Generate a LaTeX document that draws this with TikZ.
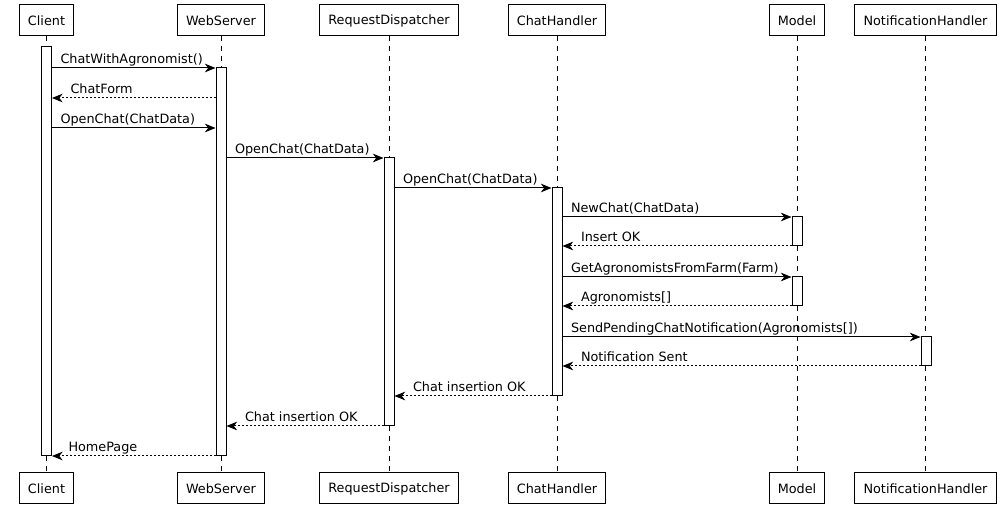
\documentclass[tikz,border=0pt]{standalone}
\usepackage{fontspec}
\setmainfont{DejaVu Sans}
\usetikzlibrary{arrows.meta, fit}

\begin{document}
\begin{tikzpicture}[
        x=0.75pt, y=-0.75pt,
        font=\fontsize{9.6}{11}\selectfont,
        actor/.style={draw, line width=0.75pt, minimum height=23.25pt, inner xsep=6.5pt, inner ysep=0pt},
        lifeline/.style={line width=0.75pt, dash pattern=on 3.75pt off 3.75pt},
        bar/.style={draw, fill=white, line width=0.75pt, inner xsep=3.75pt, inner ysep=0pt},
        call/.style={-{Stealth[length=8pt, width=6.5pt, inset=2.5pt]}, line width=0.75pt},
        reply/.style={-{Stealth[length=8pt, width=6.5pt, inset=2.5pt]}, line width=0.75pt, dash pattern=on 1.5pt off 1.5pt},
        msg/.style={anchor=base west, inner sep=0pt, yshift=3pt}
    ]
        \useasboundingbox (0,0) rectangle (1004,509);

        % Participants, top and bottom
        \node[actor] (tC) at (46.5, 20.5) {Client};
        \node[actor] (tW) at (221, 20.5) {WebServer};
        \node[actor] (tR) at (389, 20.5) {RequestDispatcher};
        \node[actor] (tH) at (557, 20.5) {ChatHandler};
        \node[actor] (tM) at (797, 20.5) {Model};
        \node[actor] (tN) at (925.5, 20.5) {NotificationHandler};

        \node[actor] (bC) at (46.5, 488.5) {Client};
        \node[actor] (bW) at (221, 488.5) {WebServer};
        \node[actor] (bR) at (389, 488.5) {RequestDispatcher};
        \node[actor] (bH) at (557, 488.5) {ChatHandler};
        \node[actor] (bM) at (797, 488.5) {Model};
        \node[actor] (bN) at (925.5, 488.5) {NotificationHandler};

        % Lifelines
        \draw[lifeline] (tC) -- (bC);
        \draw[lifeline] (tW) -- (bW);
        \draw[lifeline] (tR) -- (bR);
        \draw[lifeline] (tH) -- (bH);
        \draw[lifeline] (tM) -- (bM);
        \draw[lifeline] (tN) -- (bN);

        % Activations
        \node[bar, fit={(46.5,47) (46.5,456)}] (actC) {};
        \node[bar, fit={(221,68) (221,456)}] (actW) {};
        \node[bar, fit={(389,158) (389,426)}] (actR) {};
        \node[bar, fit={(557,188) (557,396)}] (actH) {};
        \node[bar, fit={(797,217) (797,246)}] (actM1) {};
        \node[bar, fit={(797,277) (797,306)}] (actM2) {};
        \node[bar, fit={(926,337) (926,366)}] (actN) {};

        % Message rows
        \coordinate (r1) at (0,68);
        \coordinate (r2) at (0,98);
        \coordinate (r3) at (0,128);
        \coordinate (r4) at (0,158);
        \coordinate (r5) at (0,188);
        \coordinate (r6) at (0,217);
        \coordinate (r7) at (0,246);
        \coordinate (r8) at (0,277);
        \coordinate (r9) at (0,306);
        \coordinate (r10) at (0,337);
        \coordinate (r11) at (0,366);
        \coordinate (r12) at (0,396);
        \coordinate (r13) at (0,426);
        \coordinate (r14) at (0,456);

        % Messages
        \draw[call] (actC.east |- r1) -- (actW.west |- r1) node[msg, pos=0, xshift=6pt] {ChatWithAgronomist()};
        \draw[reply] (actW.west |- r2) -- (actC.east |- r2) node[msg, pos=1, xshift=13.5pt] {ChatForm};
        \draw[call] (actC.east |- r3) -- (actW.west |- r3) node[msg, pos=0, xshift=6pt] {OpenChat(ChatData)};
        \draw[call] (actW.east |- r4) -- (actR.west |- r4) node[msg, pos=0, xshift=6pt] {OpenChat(ChatData)};
        \draw[call] (actR.east |- r5) -- (actH.west |- r5) node[msg, pos=0, xshift=6pt] {OpenChat(ChatData)};
        \draw[call] (actH.east |- r6) -- (actM1.west |- r6) node[msg, pos=0, xshift=6pt] {NewChat(ChatData)};
        \draw[reply] (actM1.west |- r7) -- (actH.east |- r7) node[msg, pos=1, xshift=13.5pt] {Insert OK};
        \draw[call] (actH.east |- r8) -- (actM2.west |- r8) node[msg, pos=0, xshift=6pt] {GetAgronomistsFromFarm(Farm)};
        \draw[reply] (actM2.west |- r9) -- (actH.east |- r9) node[msg, pos=1, xshift=13.5pt] {Agronomists[]};
        \draw[call] (actH.east |- r10) -- (actN.west |- r10) node[msg, pos=0, xshift=6pt] {SendPendingChatNotification(Agronomists[])};
        \draw[reply] (actN.west |- r11) -- (actH.east |- r11) node[msg, pos=1, xshift=13.5pt] {Notification Sent};
        \draw[reply] (actH.west |- r12) -- (actR.east |- r12) node[msg, pos=1, xshift=13.5pt] {Chat insertion OK};
        \draw[reply] (actR.west |- r13) -- (actW.east |- r13) node[msg, pos=1, xshift=13.5pt] {Chat insertion OK};
        \draw[reply] (actW.west |- r14) -- (actC.east |- r14) node[msg, pos=1, xshift=12pt] {HomePage};
    \end{tikzpicture}
\end{document}
